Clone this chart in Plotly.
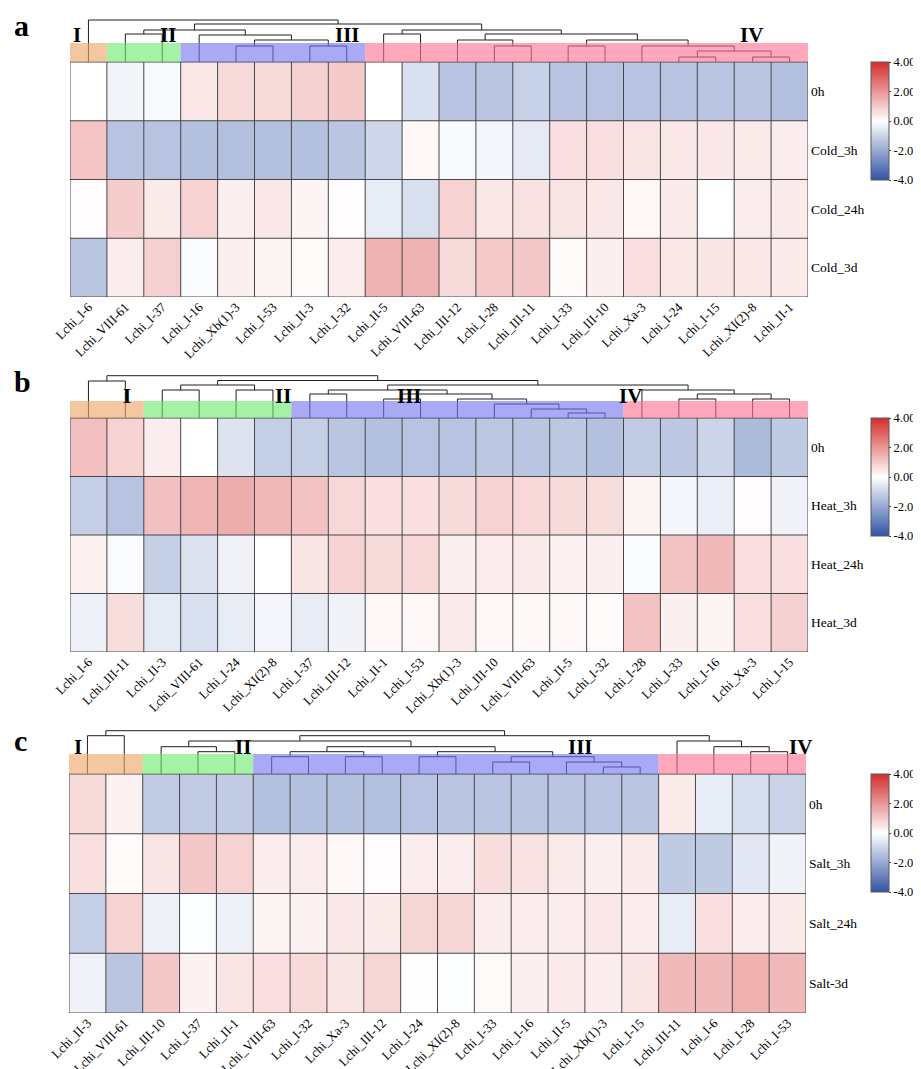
import plotly.graph_objects as go

# ---------------- data ----------------
genes_a = ["Lchi_I-6", "Lchi_VIII-61", "Lchi_I-37", "Lchi_I-16", "Lchi_Xb(1)-3", "Lchi_I-53",
           "Lchi_II-3", "Lchi_I-32", "Lchi_II-5", "Lchi_VIII-63", "Lchi_III-12", "Lchi_I-28",
           "Lchi_III-11", "Lchi_I-33", "Lchi_III-10", "Lchi_Xa-3", "Lchi_I-24", "Lchi_I-15",
           "Lchi_XI(2)-8", "Lchi_II-1"]
rows_a = ["0h", "Cold_3h", "Cold_24h", "Cold_3d"]
vals_a_0h = [0.0, -0.25, -0.15, 0.45, 0.7, 0.7, 0.9, 1.0, 0.0, -0.75, -1.4, -1.35, -1.1, -1.4, -1.4, -1.4, -1.4, -1.35, -1.35, -1.45]
vals_a_3h = [1.1, -1.4, -1.4, -1.45, -1.5, -1.5, -1.45, -1.35, -0.95, 0.15, -0.15, -0.2, -0.5, 0.6, 0.6, 0.5, 0.45, 0.45, 0.4, 0.35]
vals_a_24h = [0.05, 0.95, 0.4, 0.85, 0.3, 0.45, 0.2, 0.03, -0.45, -0.75, 0.85, 0.45, 0.55, 0.5, 0.45, 0.15, 0.4, 0.0, 0.35, 0.4]
vals_a_3d = [-1.35, 0.35, 0.9, -0.1, 0.3, 0.2, 0.1, 0.35, 1.45, 1.45, 0.7, 1.0, 1.05, 0.1, 0.3, 0.6, 0.45, 0.5, 0.45, 0.4]

genes_b = ["Lchi_I-6", "Lchi_III-11", "Lchi_II-3", "Lchi_VIII-61", "Lchi_I-24", "Lchi_XI(2)-8",
           "Lchi_I-37", "Lchi_III-12", "Lchi_II-1", "Lchi_I-53", "Lchi_Xb(1)-3", "Lchi_III-10",
           "Lchi_VIII-63", "Lchi_II-5", "Lchi_I-32", "Lchi_I-28", "Lchi_I-33", "Lchi_I-16",
           "Lchi_Xa-3", "Lchi_I-15"]
rows_b = ["0h", "Heat_3h", "Heat_24h", "Heat_3d"]
vals_b_0h = [1.2, 0.85, 0.35, 0.0, -0.65, -1.15, -1.15, -1.35, -1.45, -1.4, -1.4, -1.3, -1.35, -1.3, -1.45, -1.2, -1.3, -1.0, -1.6, -1.25]
vals_b_3h = [-1.15, -1.4, 1.2, 1.4, 1.55, 1.35, 1.15, 0.75, 0.6, 0.6, 0.7, 0.85, 0.75, 0.7, 0.65, 0.2, -0.2, -0.4, 0.05, -0.3]
vals_b_24h = [0.25, -0.1, -1.15, -0.7, -0.3, 0.0, 0.5, 0.85, 0.7, 0.75, 0.3, 0.35, 0.4, 0.25, 0.3, -0.1, 1.15, 1.35, 0.6, 0.6]
vals_b_3d = [-0.35, 0.65, -0.5, -0.75, -0.45, -0.2, -0.45, -0.3, 0.15, 0.15, 0.4, 0.15, 0.15, 0.15, 0.1, 1.15, 0.3, 0.2, 0.6, 0.9]

genes_c = ["Lchi_II-3", "Lchi_VIII-61", "Lchi_III-10", "Lchi_I-37", "Lchi_II-1", "Lchi_VIII-63",
           "Lchi_I-32", "Lchi_Xa-3", "Lchi_III-12", "Lchi_I-24", "Lchi_XI(2)-8", "Lchi_I-33",
           "Lchi_I-16", "Lchi_II-5", "Lchi_Xb(1)-3", "Lchi_I-15", "Lchi_III-11", "Lchi_I-6",
           "Lchi_I-28", "Lchi_I-53"]
rows_c = ["0h", "Salt_3h", "Salt_24h", "Salt-3d"]
vals_c_0h = [0.7, 0.25, -1.2, -1.2, -1.2, -1.45, -1.45, -1.45, -1.45, -1.4, -1.35, -1.35, -1.35, -1.35, -1.35, -1.35, 0.4, -0.45, -0.8, -1.05]
vals_c_3h = [0.6, 0.08, 0.5, 1.05, 0.85, 0.35, 0.35, 0.15, 0.05, 0.35, 0.35, 0.65, 0.55, 0.4, 0.3, 0.4, -1.25, -1.25, -0.55, -0.3]
vals_c_24h = [-1.15, 0.85, -0.35, -0.05, -0.35, 0.2, 0.25, 0.45, 0.4, 0.8, 0.8, 0.35, 0.35, 0.35, 0.45, 0.35, -0.45, 0.6, 0.35, 0.4]
vals_c_3d = [-0.3, -1.35, 1.05, 0.25, 0.5, 0.6, 0.7, 0.5, 0.8, 0.02, -0.05, 0.1, 0.3, 0.4, 0.35, 0.5, 1.3, 1.3, 1.5, 1.3]

# hierarchical clustering merges: [node_a, node_b, height]; nodes >= 20 are earlier merges
link_a = [[4, 5, 16], [6, 7, 16], [20, 21, 22], [3, 22, 27], [1, 2, 28], [24, 23, 32],
          [11, 12, 16], [10, 26, 22], [13, 14, 16], [16, 17, 5], [18, 19, 5], [29, 30, 11],
          [15, 31, 16], [28, 32, 22], [27, 33, 28], [8, 9, 28], [35, 34, 32], [25, 36, 38],
          [0, 37, 42]]
link_b = [[0, 1, 37], [2, 3, 28], [4, 5, 28], [21, 22, 33], [6, 7, 24], [8, 9, 19],
          [13, 14, 5], [12, 26, 9], [11, 27, 14], [10, 28, 19], [25, 29, 24], [24, 30, 28],
          [16, 17, 19], [18, 19, 19], [32, 33, 24], [15, 34, 28], [31, 35, 33], [23, 36, 37.5],
          [20, 37, 42.3]]
link_c = [[0, 1, 38.3], [3, 4, 22.3], [2, 21, 27.3], [5, 6, 17.3], [7, 8, 17.3], [23, 24, 22.3],
          [9, 10, 17.3], [11, 12, 12], [14, 15, 7], [13, 28, 12], [27, 29, 17.3], [26, 30, 22.3],
          [25, 31, 27.3], [22, 32, 33], [18, 19, 22.3], [17, 34, 27.3], [16, 35, 33],
          [33, 36, 38.3], [20, 37, 43.3]]

cluster_names = ["I", "II", "III", "IV"]
cluster_sizes_a = [1, 2, 5, 12]
cluster_sizes_b = [2, 4, 9, 5]
cluster_sizes_c = [2, 3, 11, 4]

tick_vals = [-4, -2, 0, 2, 4]
tick_text = ["-4.00", "-2.00", "0.00", "2.00", "4.00"]

# ---------------- styling / layout ----------------
PAGE_W, PAGE_H = 921, 1069
OFF = 8  # default page body margin
W, H = PAGE_W - OFF, PAGE_H - OFF
SERIF = "Liberation Serif, Times New Roman, serif"
cluster_colors = ["rgb(235,164,101)", "rgb(109,232,109)", "rgb(117,117,240)", "rgb(255,113,146)"]
colorscale = [[0.0, "rgb(49,84,165)"], [0.5, "rgb(255,255,255)"], [1.0, "rgb(212,44,44)"]]


def px_x(v):
    return (v - OFF) / W


def px_y(v):
    return 1 - (v - OFF) / H


panels = [
    dict(letter="a", genes=genes_a, rows=rows_a, vals=[vals_a_0h, vals_a_3h, vals_a_24h, vals_a_3d],
         link=link_a, sizes=cluster_sizes_a, x0=70, x1=808, top=14, hm_top=62, hm_bot=297, bar=19,
         lab_x=[-0.31, 2.16, 7.03, 17.96], lab_h=27, letter_y=25),
    dict(letter="b", genes=genes_b, rows=rows_b, vals=[vals_b_0h, vals_b_3h, vals_b_24h, vals_b_3d],
         link=link_b, sizes=cluster_sizes_b, x0=70, x1=808, top=370, hm_top=418, hm_bot=652, bar=17,
         lab_x=[1.04, 5.27, 8.71, 14.7], lab_h=22, letter_y=382),
    dict(letter="c", genes=genes_c, rows=rows_c, vals=[vals_c_0h, vals_c_3h, vals_c_24h, vals_c_3d],
         link=link_c, sizes=cluster_sizes_c, x0=69, x1=806, top=725, hm_top=774, hm_bot=1013, bar=20,
         lab_x=[-0.26, 4.22, 13.37, 19.34], lab_h=27, letter_y=740),
]

fig = go.Figure()
shapes = []
annotations = []
layout_axes = {}

for k, p in enumerate(panels):
    n = len(p["genes"])
    m = len(p["rows"])
    rowpx = (p["hm_bot"] - p["hm_top"]) / m
    ytop = -0.5 - (p["hm_top"] - p["top"]) / rowpx
    sfx = "" if k == 0 else str(k + 1)
    xa, ya = "x" + sfx, "y" + sfx
    cax = "coloraxis" + sfx

    def hy(h, rowpx=rowpx):
        return -0.5 - h / rowpx

    fig.add_trace(go.Heatmap(z=p["vals"], x=list(range(n)), y=list(range(m)), coloraxis=cax,
                             xaxis=xa, yaxis=ya, hoverinfo="skip"))

    # cell borders
    gx, gy = [], []
    for i in range(n + 1):
        gx += [i - 0.5, i - 0.5, None]
        gy += [-0.5, m - 0.5, None]
    for j in range(m + 1):
        gx += [-0.5, n - 0.5, None]
        gy += [j - 0.5, j - 0.5, None]
    fig.add_trace(go.Scatter(x=gx, y=gy, mode="lines", line=dict(color="rgb(70,70,70)", width=1),
                             xaxis=xa, yaxis=ya, hoverinfo="skip", showlegend=False))

    # dendrogram
    pos = {i: (float(i), 0.0) for i in range(n)}
    dx, dy = [], []
    for idx, (a, b, h) in enumerate(p["link"]):
        xa_, ha = pos[a]
        xb_, hb = pos[b]
        dx += [xa_, xa_, xb_, xb_, None]
        dy += [hy(ha), hy(h), hy(h), hy(hb), None]
        pos[n + idx] = ((xa_ + xb_) / 2, h)
    fig.add_trace(go.Scatter(x=dx, y=dy, mode="lines", line=dict(color="rgb(30,30,30)", width=1),
                             xaxis=xa, yaxis=ya, hoverinfo="skip", showlegend=False))

    # cluster bars
    start = 0
    for ci, sz in enumerate(p["sizes"]):
        shapes.append(dict(type="rect", xref=xa, yref=ya, x0=start - 0.5, x1=start + sz - 0.5,
                           y0=hy(p["bar"]), y1=-0.5, fillcolor=cluster_colors[ci], opacity=0.62,
                           line=dict(width=0), layer="above"))
        start += sz
    for ci, name in enumerate(cluster_names):
        annotations.append(dict(x=p["lab_x"][ci], y=hy(p["lab_h"]), xref=xa, yref=ya, text="<b>%s</b>" % name,
                                showarrow=False, font=dict(family=SERIF, size=21, color="black"),
                                xanchor="center", yanchor="middle"))
    annotations.append(dict(x=px_x(12), y=px_y(p["letter_y"]), xref="paper", yref="paper",
                            text="<b>%s</b>" % p["letter"], showarrow=False,
                            font=dict(family=SERIF, size=30, color="black"),
                            xanchor="left", yanchor="middle"))

    layout_axes["xaxis" + sfx] = dict(domain=[px_x(p["x0"]), px_x(p["x1"])], range=[-0.5, n - 0.5],
                                      anchor=ya, tickmode="array", tickvals=list(range(n)),
                                      ticktext=p["genes"], tickangle=-45, showgrid=False,
                                      zeroline=False, showline=False, ticks="", automargin=False,
                                      ticklabelstandoff=-1,
                                      tickfont=dict(family=SERIF, size=13, color="black"))
    layout_axes["yaxis" + sfx] = dict(domain=[px_y(p["hm_bot"]), px_y(p["top"])],
                                      range=[m - 0.5, ytop], anchor=xa, side="right",
                                      tickmode="array", tickvals=list(range(m)), ticktext=p["rows"],
                                      showgrid=False, zeroline=False, showline=False, ticks="",
                                      automargin=False, ticklabelstandoff=2,
                                      tickfont=dict(family=SERIF, size=13.5, color="black"))
    cb_center = p["hm_top"] + 59
    layout_axes[cax] = dict(colorscale=colorscale, cmin=-4, cmax=4,
                            colorbar=dict(x=px_x(871), xanchor="left", y=px_y(cb_center), yanchor="middle",
                                          len=118, lenmode="pixels", thickness=18, xpad=0, ypad=0,
                                          outlinewidth=1, outlinecolor="rgb(90,90,90)",
                                          tickmode="array", tickvals=tick_vals, ticktext=tick_text,
                                          ticks="outside", ticklen=2, tickcolor="rgb(60,60,60)",
                                          tickfont=dict(family=SERIF, size=12.5, color="black")))

fig.update_layout(width=W, height=H, margin=dict(l=0, r=0, t=0, b=0, pad=0, autoexpand=False),
                  paper_bgcolor="white", plot_bgcolor="white", showlegend=False,
                  shapes=shapes, annotations=annotations, **layout_axes)

fig.write_html("out.html")
